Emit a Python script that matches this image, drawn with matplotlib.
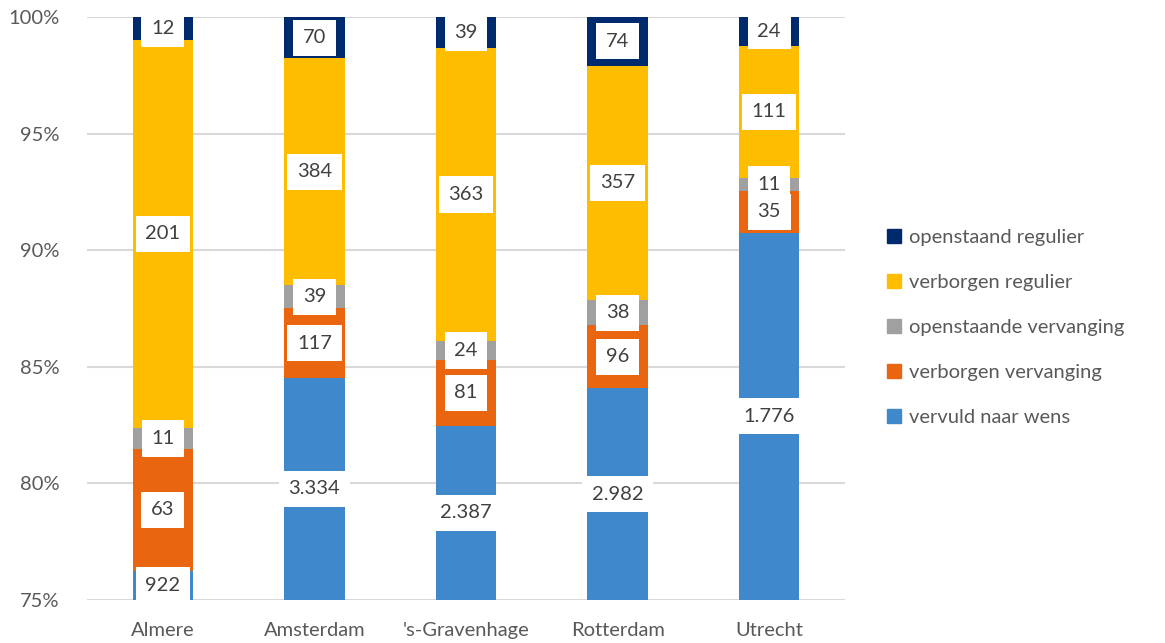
import matplotlib
matplotlib.use("Agg")
import matplotlib.pyplot as plt
from matplotlib.patches import Patch

plt.rcParams['font.family'] = ['Lato', 'DejaVu Sans']

# Data: counts per city, stacked bottom to top
cities = ['Almere', 'Amsterdam', "'s-Gravenhage", 'Rotterdam', 'Utrecht']
vervuld = [922, 3334, 2387, 2982, 1776]
verborgen_verv = [63, 117, 81, 96, 35]
openstaande_verv = [11, 39, 24, 38, 11]
verborgen_reg = [201, 384, 363, 357, 111]
openstaand_reg = [12, 70, 39, 74, 24]

series = [vervuld, verborgen_verv, openstaande_verv, verborgen_reg, openstaand_reg]
names = ['vervuld naar wens', 'verborgen vervanging', 'openstaande vervanging',
         'verborgen regulier', 'openstaand regulier']
colors = ['#3F88CC', '#E9650F', '#A0A0A0', '#FFBD00', '#002A6E']

ymin, ymax = 75, 100


def nl_fmt(n):
    return f"{n:,}".replace(",", ".")


fig = plt.figure(figsize=(11.65, 6.43), dpi=100)
ax = fig.add_axes([0.0747, 0.0669, 0.6506, 0.9067])

totals = [sum(s[i] for s in series) for i in range(len(cities))]
x = list(range(len(cities)))
bottoms = [0.0] * len(cities)
for vals, name, col in zip(series, names, colors):
    pct = [v / t * 100 for v, t in zip(vals, totals)]
    ax.bar(x, pct, bottom=bottoms, width=0.40, color=col, label=name, zorder=2)
    # label sits in the middle of the visible part of the segment
    for i, (v, p) in enumerate(zip(vals, pct)):
        lo = max(bottoms[i], ymin)
        hi = min(bottoms[i] + p, ymax)
        ax.text(i, (lo + hi) / 2, nl_fmt(v), ha='center', va='center',
                fontsize=14.5, color='#404040', zorder=4, clip_on=True,
                bbox=dict(boxstyle='square,pad=0.48', fc='white', ec='none'))
    bottoms = [b + p for b, p in zip(bottoms, pct)]

ax.set_ylim(ymin, ymax)
ax.set_xlim(-0.5, len(cities) - 0.5)
ax.set_yticks(range(75, 101, 5))
ax.set_yticklabels([f"{t}%" for t in range(75, 101, 5)])
ax.set_xticks(x)
ax.set_xticklabels(cities)
ax.tick_params(axis='both', length=0, labelsize=14.5, labelcolor='#595959')
ax.tick_params(axis='x', pad=16)
ax.tick_params(axis='y', pad=20)
ax.grid(axis='y', color='#D9D9D9', linewidth=1.5, zorder=0)
ax.set_axisbelow(True)
for s in ax.spines.values():
    s.set_visible(False)

handles = [Patch(color=c, label=n) for c, n in zip(colors[::-1], names[::-1])]
fig.legend(handles=handles, loc='upper left', bbox_to_anchor=(0.746, 0.672),
           frameon=False, fontsize=14.5, labelcolor='#595959',
           handlelength=0.7, handleheight=0.7, handletextpad=0.4,
           labelspacing=1.38)

fig.savefig('out.png', dpi=100)
